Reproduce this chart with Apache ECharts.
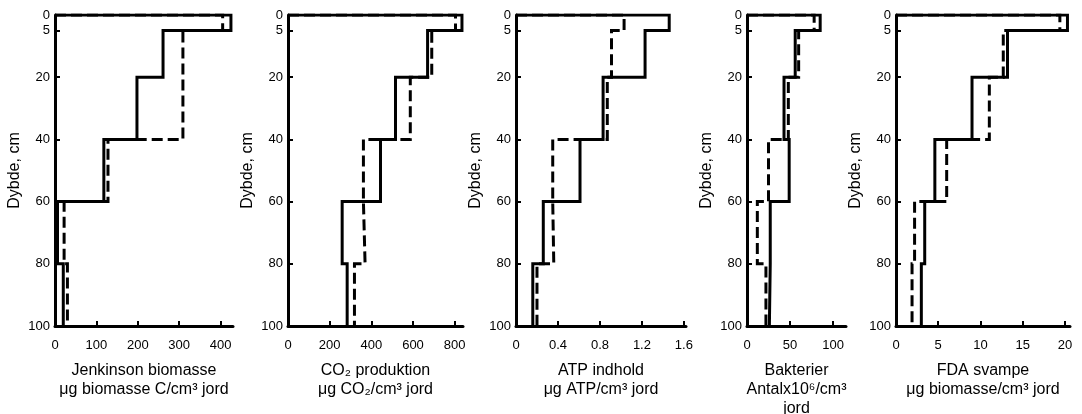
<!DOCTYPE html>
<html>
<head>
<meta charset="utf-8">
<script src="https://cdn.jsdelivr.net/npm/echarts@6/dist/echarts.min.js"></script>
<style>
html,body{margin:0;padding:0;background:#fff;}
#chart{width:1082px;height:414px;}
</style>
</head>
<body>
<div id="chart"></div>
<script>
// Depth boundaries (cm)
const depths = [0, 5, 20, 40, 60, 80, 100];
const depthTicks = [0, 5, 20, 40, 60, 80, 100];

// Panel 1: Jenkinson biomasse
const jenkinsonSolid  = [425, 261, 198, 118, 6, 20];
const jenkinsonDashed = [405, 309, 309, 128, 22, 30];
const jenkinsonTicks  = [0, 100, 200, 300, 400];

// Panel 2: CO2 produktion
const co2Solid  = [835, 670, 516, 444, 260, 284];
const co2Dashed = [804, 690, 587, 362, 370, 319];
const co2Ticks  = [0, 200, 400, 600, 800];

// Panel 3: ATP indhold
const atpSolid  = [1.46, 1.23, 0.83, 0.61, 0.26, 0.16];
const atpDashed = [1.03, 0.91, 0.87, 0.35, 0.36, 0.20];
const atpTicks  = [0, 0.4, 0.8, 1.2, 1.6];

// Panel 4: Bakterier
const bakSolid  = [85, 56, 43, 49, 27, 26];
const bakDashed = [78, 60, 48, 25, 12, 22];
const bakTicks  = [0, 50, 100];

// Panel 5: FDA svampe
const fdaSolid  = [20.3, 13.2, 9.0, 4.6, 3.4, 3.0];
const fdaDashed = [19.4, 12.7, 11.05, 6.0, 2.2, 1.9];
const fdaTicks  = [0, 5, 10, 15, 20];

const titles = [
  'Jenkinson biomasse\nμg biomasse C/cm³ jord',
  'CO₂ produktion\nμg CO₂/cm³ jord',
  'ATP indhold\nμg ATP/cm³ jord',
  'Bakterier\nAntalx10⁶/cm³\njord',
  'FDA svampe\nμg biomasse/cm³ jord'
];
const yName = 'Dybde, cm';

const panels = [
  {solid: jenkinsonSolid, dashed: jenkinsonDashed, ticks: jenkinsonTicks, max: 430,  left: 55,  width: 178},
  {solid: co2Solid,       dashed: co2Dashed,       ticks: co2Ticks,       max: 840,  left: 288, width: 175},
  {solid: atpSolid,       dashed: atpDashed,       ticks: atpTicks,       max: 1.62, left: 516, width: 170},
  {solid: bakSolid,       dashed: bakDashed,       ticks: bakTicks,       max: 115,  left: 747, width: 99},
  {solid: fdaSolid,       dashed: fdaDashed,       ticks: fdaTicks,       max: 20.6, left: 896, width: 174}
];

function profile(vals) {
  const pts = [[0, depths[0]]];
  for (let i = 0; i < vals.length; i++) {
    pts.push([vals[i], depths[i]]);
    pts.push([vals[i], depths[i + 1]]);
  }
  return pts;
}

const FONT = '"Liberation Sans", Arial, Helvetica, sans-serif';
const grids = [], xAxes = [], yAxes = [], series = [];

panels.forEach((p, i) => {
  grids.push({left: p.left, width: p.width, top: 15, height: 311, outerBoundsMode: 'none', containLabel: false});
  xAxes.push({
    type: 'value', gridIndex: i, min: 0, max: p.max, position: 'bottom',
    axisLine: {show: true, onZero: false, lineStyle: {color: '#000', width: 3}},
    axisTick: {show: true, inside: true, length: 5, customValues: p.ticks, lineStyle: {color: '#000', width: 2}},
    axisLabel: {customValues: p.ticks, margin: 13, color: '#000', fontSize: 13, fontFamily: FONT},
    splitLine: {show: false},
    name: titles[i], nameLocation: 'middle', nameGap: 35,
    nameTextStyle: {color: '#000', fontSize: 16, fontFamily: FONT, lineHeight: 19, verticalAlign: 'top'}
  });
  yAxes.push({
    type: 'value', gridIndex: i, min: 0, max: 100, inverse: true, position: 'left',
    axisLine: {show: true, onZero: false, lineStyle: {color: '#000', width: 3}},
    axisTick: {show: true, inside: true, length: 5, customValues: depthTicks, lineStyle: {color: '#000', width: 2}},
    axisLabel: {customValues: depthTicks, margin: 5, color: '#000', fontSize: 13, fontFamily: FONT},
    splitLine: {show: false},
    name: yName, nameLocation: 'middle', nameGap: 32, nameRotate: 90,
    nameTextStyle: {color: '#000', fontSize: 16, fontFamily: FONT}
  });
  series.push({
    type: 'line', xAxisIndex: i, yAxisIndex: i, data: profile(p.solid),
    showSymbol: false, symbol: 'none', animation: false, silent: true,
    lineStyle: {color: '#000', width: 3, type: 'solid', join: 'miter', cap: 'butt'}
  });
  series.push({
    type: 'line', xAxisIndex: i, yAxisIndex: i, data: profile(p.dashed),
    showSymbol: false, symbol: 'none', animation: false, silent: true,
    lineStyle: {color: '#000', width: 3, type: [11, 5], join: 'miter', cap: 'butt'}
  });
});

const chart = echarts.init(document.getElementById('chart'), null, {renderer: 'canvas'});
chart.setOption({
  backgroundColor: '#fff',
  animation: false,
  grid: grids,
  xAxis: xAxes,
  yAxis: yAxes,
  series: series
});
</script>
</body>
</html>
